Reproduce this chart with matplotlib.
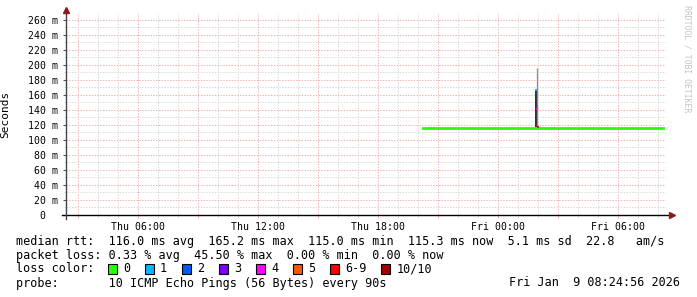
import numpy as np
import matplotlib
matplotlib.use("Agg")
import matplotlib.pyplot as plt
from matplotlib.patches import Rectangle

MONO = "DejaVu Sans Mono"

# time axis: hours since Thu 00:00
T_START = 2.4156   # Thu 02:24:56
T_END = 32.4156    # Fri 08:24:56

tick_hours = [3, 6, 9, 12, 15, 18, 21, 24, 27, 30]
tick_labels = ["", "Thu 06:00", "", "Thu 12:00", "", "Thu 18:00", "",
               "Fri 00:00", "", "Fri 06:00"]

y_ticks = [0, 20, 40, 60, 80, 100, 120, 140, 160, 180, 200, 220, 240, 260]
y_labels = ["0  "] + [f"{v} m" for v in y_ticks[1:]]

# median rtt (ms), read every 15 min starting Thu 20:16
median_t0 = 20.27
median_ms = [116.1, 116.4, 115.9, 116.2, 116.0, 116.5, 115.8, 116.3,
             116.1, 115.9, 116.4, 116.2, 116.0, 116.3, 115.8, 116.1,
             116.5, 116.0, 116.2, 115.9, 116.3, 116.1, 116.6, 116.0,
             115.8, 116.2, 116.4, 116.1, 115.9, 116.3, 116.0, 116.2,
             115.8, 116.4, 116.1, 116.0, 116.3, 115.9, 116.2, 116.5,
             116.0, 116.1, 115.8, 116.3, 116.2, 116.0, 116.4, 115.9,
             116.1]
median_step = 0.25

# the one burst around Fri 01:58
spike_t = 25.95
spike_dark = (116.8, 165.0)
spike_light = (116.8, 196.0)
spike_loss_t = [25.93, 25.97, 26.02]
spike_loss_ms = [167.0, 141.0, 117.0]
spike_loss_col = ["#00b8ff", "#ff00ff", "#ff0000"]

loss_names = ["0", "1", "2", "3", "4", "5", "6-9", "10/10"]
loss_colors = ["#26ff00", "#00b8ff", "#0059ff", "#7e00ff", "#ff00ff",
               "#ff5500", "#ff0000", "#a10000"]

legend_lines = [
    "median rtt:  116.0 ms avg  165.2 ms max  115.0 ms min  115.3 ms now  5.1 ms sd  22.8   am/s",
    "packet loss: 0.33 % avg  45.50 % max  0.00 % min  0.00 % now",
    "loss color:",
    "probe:       10 ICMP Echo Pings (56 Bytes) every 90s",
]
stamp = "Fri Jan  9 08:24:56 2026"

W, H = 697, 297
fig = plt.figure(figsize=(W / 100, H / 100), dpi=100)
ax = fig.add_axes([66 / W, (H - 215) / H, 600 / W, 202 / H])
ax.set_xlim(T_START, T_END)
ax.set_ylim(0, 269.3)
for s in ax.spines.values():
    s.set_visible(False)

# grid
RED = "#f0b4b4"
GRAY = "#d9d9d9"
dots = (0, (1.4, 1.4))
for h in range(3, 33):
    ax.axvline(h, color=RED if h % 3 == 0 else GRAY, lw=0.72, ls=dots, zorder=0)
for v in range(10, 270, 10):
    ax.axhline(v, color=RED if v % 20 == 0 else GRAY, lw=0.72, ls=dots, zorder=0)

# ticks
ax.set_xticks(tick_hours, tick_labels, fontfamily=MONO, fontsize=7.1)
ax.set_xticks(range(3, 33), minor=True)
ax.tick_params(axis="x", which="major", length=2.5, color=RED, pad=2.5)
ax.tick_params(axis="x", which="minor", length=2, color=GRAY)
ax.set_yticks(y_ticks, y_labels, fontfamily=MONO, fontsize=7.1)
ax.tick_params(axis="y", length=2.5, color="#555555", pad=3)
ax.set_yticks(range(10, 270, 20), minor=True)
ax.tick_params(axis="y", which="minor", length=1.5, color=GRAY)

ax.set_ylabel("Seconds", fontfamily=MONO, fontsize=8, labelpad=6)
ax.yaxis.set_label_coords(-56 / 600, 0.5)

# smoke and median
ax.fill_between([spike_t - 0.06, spike_t + 0.02], spike_dark[0], spike_dark[1],
                color="#333333", lw=0, zorder=3)
ax.vlines(spike_t + 0.04, spike_light[0], spike_light[1], color="#8a8a8a",
          lw=0.9, zorder=3)
mt = median_t0 + median_step * np.arange(len(median_ms))
ax.step(mt, median_ms, where="post", color="#26ff00", lw=2.0, zorder=4)
ax.scatter(spike_loss_t, spike_loss_ms, c=spike_loss_col, s=3, marker="s",
           lw=0, zorder=5)

# axis lines with arrows
ARROW = "#8b1a1a"
ax.plot([-4 / 600, 604 / 600], [0, 0], color="black", lw=1.0,
        transform=ax.transAxes, clip_on=False, zorder=6)
ax.plot([0, 0], [-4 / 202, 1.0], color="#444444", lw=1.0,
        transform=ax.transAxes, clip_on=False, zorder=6)
ax.plot([606 / 600], [0], marker=">", ms=5, color=ARROW, mec=ARROW,
        transform=ax.transAxes, clip_on=False, zorder=7)
ax.plot([0], [1.015], marker="^", ms=5, color=ARROW, mec=ARROW,
        transform=ax.transAxes, clip_on=False, zorder=7)

# legend block
ys = [241, 255, 269, 283]
for line, y in zip(legend_lines, ys):
    fig.text(16 / W, (H - y) / H, line, fontfamily=MONO, fontsize=8.5,
             va="center", ha="left")
fig.text(680 / W, (H - 283) / H, stamp, fontfamily=MONO, fontsize=8.5,
         va="center", ha="right")

bx = 108
for name, col in zip(loss_names, loss_colors):
    fig.add_artist(Rectangle((bx / W, (H - 269 - 5) / H), 9 / W, 10 / H,
                             facecolor=col, edgecolor="black", lw=0.8,
                             transform=fig.transFigure))
    fig.text((bx + 15) / W, (H - 269) / H, name, fontfamily=MONO,
             fontsize=8.5, va="center", ha="left")
    bx += 37 + 7.08 * max(0, len(name) - 1)

fig.text(687 / W, (H - 5) / H, "RRDTOOL / TOBI OETIKER", fontfamily=MONO,
         fontsize=5.9, color="#c4c4c4", rotation=270, va="top", ha="center")

fig.savefig("out.png", dpi=100, facecolor="white")
